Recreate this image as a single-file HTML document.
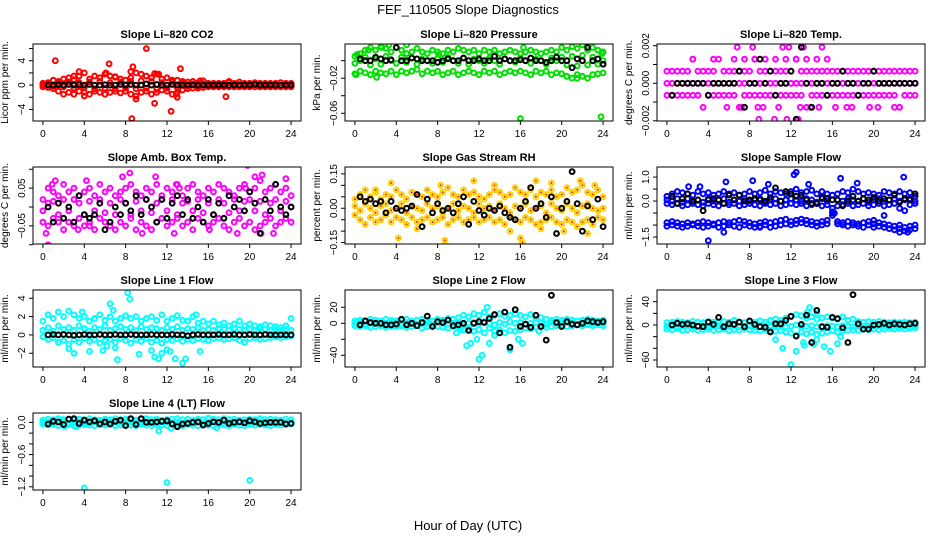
<!DOCTYPE html>
<html><head><meta charset="utf-8"><title>FEF_110505 Slope Diagnostics</title>
<style>
html,body{margin:0;padding:0;background:#fff;}
svg{display:block;font-family:"Liberation Sans",Arial,sans-serif;}
</style></head>
<body>
<svg id="chart" width="936" height="540" viewBox="0 0 936 540" xmlns="http://www.w3.org/2000/svg">
<rect x="0" y="0" width="936" height="540" fill="#fff"/>
<text x="468" y="14" text-anchor="middle" font-size="13">FEF_110505  Slope Diagnostics</text>
<text x="468" y="530" text-anchor="middle" font-size="13">Hour of Day (UTC)</text>
</svg>
<script>
// ---- data ----
const hours = [0,0.5,1,1.5,2,2.5,3,3.5,4,4.5,5,5.5,6,6.5,7,7.5,8,8.5,9,9.5,10,10.5,11,11.5,12,12.5,13,13.5,14,14.5,15,15.5,16,16.5,17,17.5,18,18.5,19,19.5,20,20.5,21,21.5,22,22.5,23,23.5,24];
const xTicks = [0,4,8,12,16,20,24];

// CO2
const co2Hi = [0.3,0.4,0.8,0.6,1.0,1.2,0.9,1.5, 2.0,1.0,1.5,1.2,1.8,1.5,1.3,1.0, 0.8,1.2,2.0,1.8,1.5,1.2,1.8,1.0, 1.2,0.8,0.8,0.6,0.5,0.6,0.4,0.7, 0.3,0.3,0.3,0.3,0.4,0.3,0.5,0.3, 0.3,0.4,0.3,0.3,0.3,0.3,0.4,0.3, 0.3];
const co2Mid = [0,0.2,-0.2,0.3,-0.3,0.5,-0.5,0.4, -0.4,0.5,-0.6,0.6,-0.5,0.4,-0.6,0.5, -0.5,0.6,-0.6,0.7,-0.5,0.6,-0.7,0.4, -0.5,0.5,-0.4,0.3,-0.2,0.2,-0.2,0.2, -0.1,0.1,-0.1,0.1,-0.1,0.1,-0.1,0.1, -0.1,0.1,-0.1,0.1,-0.1,0.1,-0.1,0.1, 0];
const co2Lo = [-0.3,-0.4,-0.6,-1.0,-1.5,-1.2,-1.5,-1.0, -1.2,-1.5,-1.0,-1.2,-1.5,-1.2,-1.0,-1.3, -1.0,-1.5,-1.8,-1.2,-1.0,-1.5,-1.2,-0.8, -1.0,-1.5,-1.2,-0.8,-0.6,-0.5,-0.5,-0.4, -0.3,-0.3,-0.3,-0.3,-0.3,-0.3,-0.3,-0.3, -0.3,-0.3,-0.3,-0.3,-0.3,-0.3,-0.3,-0.3, -0.3];
const co2OutH = [1.2,3.5,6.4,8.6,8.7,10,10.8,12.4,13.3,17.7,9,4,6.1,7,3,10.8,11.2,13,15.2,18,8.5,12.9];
const co2OutV = [4,2.2,3.5,-5.5,3,6,-3,-4.3,2.7,-1.9,-2.3,-1.8,2,1.4,1.5,1.9,1.8,-2,0.7,0.6,2.2,-1.5];
const co2Black = [0,0,0.05,0,0.1,0,0.05,0, 0.1,0,0,0.05,0,0,0.1,0, 0.1,0,0,0.2,0,0.1,0,0, 0.1,0,0,0.05,0,0,0,0, 0,0,0,0,0,0.05,0,0, 0.1,0,0,0,0,0,0,0];

// Pressure
const presHi = [0.005,0.008,0.012,0.015,0.012,0.016,0.014,0.01, 0.015,0.012,0.008,0.01,0.014,0.01,0.008,0.012, 0.01,0.008,0.012,0.01,0.014,0.012,0.01,0.012, 0.008,0.012,0.01,0.012,0.008,0.01,0.012,0.01, 0.008,0.01,0.012,0.01,0.008,0.01,0.012,0.01, 0.015,0.012,0.016,0.014,0.018,0.012,0.015,0.012, 0.01];
const presMid = [-0.003,0,0.004,-0.005,0.002,-0.004,0.005,0, -0.003,0.004,-0.002,0.003,-0.004,0.002,0,-0.003, 0.003,-0.002,0.004,0,-0.003,0.003,-0.004,0.002, 0,-0.003,0.003,0,-0.004,0.002,0,-0.002, 0.003,0,-0.003,0.002,0,-0.004,0.003,0, 0.004,-0.005,0.005,-0.006,0.006,-0.005,0.004,-0.004, 0];
const presLo = [-0.015,-0.012,-0.014,-0.016,-0.012,-0.014,-0.015,-0.012, -0.016,-0.012,-0.014,-0.012,-0.01,-0.015,-0.012,-0.014, -0.012,-0.016,-0.014,-0.012,-0.016,-0.014,-0.012,-0.014, -0.016,-0.012,-0.014,-0.012,-0.016,-0.014,-0.012,-0.014, -0.012,-0.014,-0.016,-0.012,-0.014,-0.012,-0.016,-0.014, -0.015,-0.018,-0.02,-0.016,-0.018,-0.02,-0.016,-0.015, -0.014];
const presOutH = [0.2,1.3,2.6,3.3,5,7.8,8.1,16,16.3,23.8,23.9,20.5,21.5,22,0.1,2.1];
const presOutV = [0.007,0.012,0.015,0.018,0.018,-0.072,0.007,-0.066,0.015,-0.064,0.008,-0.018,-0.02,-0.018,-0.016,-0.019];
const presBlack = [0.002,0,0,0.004,0.002,0,0.001,0.015, 0,0,0.003,0.002,0,0,0,-0.002, 0,0.002,0,0,0.003,0,0,0.002, 0,0,0.005,0,0.002,0,0,0.001, 0,0.003,0,0,-0.002,0,0.004,0, 0,-0.008,0.002,0,0.015,0,0.002,-0.004];

// Li-820 Temp (quantized levels)
const tempHi = [0.00064,0.00064,0.00064,0.00064,0.00064,0.00128,0.00064,0.00064, 0.00064,0.00064,0.00128,0.00064,0.00064,0.00064,0.00064,0.00064, 0.00064,0.00128,0.00064,0.00064,0.00064,0.00064,0.00064,0.00064, 0.00064,0.00128,0.00064,0.00064,0.00064,0.00064,0.00064,0.00064, 0.00064,0.00064,0.00064,0.00064,0.00064,0.00064,0.00064,0.00064, 0.00064,0.00064,0.00064,0.00064,0.00064,0.00064,0.00064,0.00064, 0.00064];
const tempMid = [0,0,0,0,0,0,0,0, 0,0,0,0,0,0,0,0, 0,0,0,0,0,0,0,0, 0,0,0,0,0,0,0,0, 0,0,0,0,0,0,0,0, 0,0,0,0,0,0,0,0, 0];
const tempLo = [-0.00064,-0.00064,-0.00064,-0.00064,-0.00064,-0.00064,-0.00064,-0.00128, -0.00064,-0.00064,-0.00064,-0.00064,-0.00064,-0.00064,-0.00128,-0.00064, -0.00064,-0.00064,-0.00064,-0.00064,-0.00064,-0.00064,-0.00064,-0.00064, -0.00064,-0.00064,-0.00064,-0.00128,-0.00064,-0.00064,-0.00064,-0.00064, -0.00064,-0.00064,-0.00064,-0.00064,-0.00064,-0.00064,-0.00064,-0.00064, -0.00064,-0.00064,-0.00064,-0.00064,-0.00064,-0.00128,-0.00064,-0.00064, -0.00064];
const tempOutH = [2.5,4.5,6.5,7.5,8.5,9.5,10.5,11.5,12.5,13.5,14.5,15.5, 6.8,8.3,11.2,11.8,13.2,15, 5.8,7.2,8.8,9.3,10.8,12.9,13.9,14.7,16.3,17.4,17.9,19.6,20.4,22, 8.9,10.4,11.6,12.7];
const tempOutV = [0.00128,0.00128,0.00128,0.00128,0.00128,0.00128,0.00128,0.00128,0.00128,0.00128,0.00128,0.00128, 0.00192,0.00192,0.00192,0.00192,0.00192,0.00192, -0.00128,-0.00128,-0.00128,-0.00128,-0.00128,-0.00128,-0.00128,-0.00128,-0.00128,-0.00128,-0.00128,-0.00128,-0.00128,-0.00128, -0.00192,-0.00192,-0.00192,-0.00192];
const tempBlack = [-0.00064,0,0,0,0,0,0,-0.00064, 0,0,0,0,0,0.00064,-0.00128,0, 0,0.00128,0,0.00064,-0.00064,0,0,0.00064, -0.00192,0.00192,0,-0.00128,0,0,-0.00064,0, 0,0.00064,0,0,-0.00064,0,0,0.00064, 0,0,0,0,0,0,0,0];

// Amb box temp
const ambHi = [0.02,0.05,0.04,0.03,0.06,0.04,0.05,0.03, 0.04,0.05,0.03,0.06,0.04,0.05,0.03,0.04, 0.05,0.06,0.04,0.03,0.05,0.04,0.06,0.03, 0.05,0.04,0.06,0.03,0.05,0.06,0.04,0.03, 0.05,0.04,0.06,0.05,0.04,0.03,0.05,0.06, 0.04,0.05,0.07,0.04,0.05,0.06,0.04,0.05, 0.03];
const ambMid = [-0.01,0.01,0.015,-0.02,0.02,-0.01,0.02,0.01, -0.02,0.015,-0.01,0.02,-0.015,0.01,-0.02,0.02, 0.01,-0.02,0.015,-0.01,0.02,-0.015,0.01,0.02, -0.01,0.02,-0.02,0.01,0.015,-0.01,0.02,-0.015, 0.01,-0.02,0.02,0.01,-0.015,0.02,-0.01,0.015, 0.02,-0.01,0.015,-0.02,0.01,0.02,-0.01,0.015, 0];
const ambLo = [-0.04,-0.05,-0.03,-0.04,-0.06,-0.04,-0.05,-0.03, -0.05,-0.04,-0.06,-0.03,-0.04,-0.05,-0.06,-0.04, -0.05,-0.03,-0.06,-0.04,-0.05,-0.06,-0.04,-0.03, -0.05,-0.04,-0.03,-0.05,-0.04,-0.06,-0.03,-0.04, -0.05,-0.04,-0.03,-0.05,-0.06,-0.04,-0.03,-0.05, -0.04,-0.06,-0.05,-0.04,-0.03,-0.05,-0.04,-0.03, -0.04];
const ambOutH = [0.3,0.9,1.2,0.5,3.4,4.5,8.4,10.5,10.9,12.9,12.7,13.2,18.8,19.8,20.5,21.1,21.2,23.5,19.6,4.2,9.6,16.1,22.3,7.7];
const ambOutV = [-0.07,0.06,0.07,-0.1,-0.06,-0.05,0.09,-0.11,0.08,0.06,-0.07,0.05,-0.07,0.11,0.08,-0.07,0.085,0.075,0.05,0.07,-0.07,-0.06,-0.07,0.08];
const ambBlack = [0,-0.04,0.01,-0.03,0,-0.04,0.03,-0.02, -0.03,-0.02,0.01,-0.06,-0.04,0,-0.02,0.01, -0.01,0.03,-0.02,0.02,0,-0.04,0.02,-0.03, 0.01,0.03,-0.02,0.02,-0.03,0,-0.04,0.02, -0.02,0.01,-0.03,0.03,0,0.02,-0.01,0.04, 0.01,-0.07,0.02,-0.01,0.06,0,-0.02,0];

// Gas stream RH
const rhHi = [0.04,0.06,0.08,0.05,0.07,0.04,0.06,0.05, 0.08,0.06,0.04,0.07,0.06,0.05,0.08,0.06, 0.05,0.07,0.09,0.06,0.05,0.08,0.06,0.07, 0.05,0.04,0.06,0.08,0.07,0.05,0.06,0.09, 0.07,0.06,0.08,0.05,0.07,0.06,0.08,0.05, 0.06,0.09,0.07,0.08,0.1,0.07,0.06,0.08, 0.05];
const rhMid = [0.01,-0.01,0.02,0,-0.02,0.01,0.02,-0.01, 0,0.02,-0.02,0.01,0,-0.01,0.02,0, 0.01,-0.02,0,0.02,-0.01,0.01,0,-0.02, 0.02,0,0.01,-0.01,0.02,0,-0.02,0.01, 0,0.02,-0.01,0,0.01,-0.02,0.02,0, -0.01,0.02,0,-0.02,0.01,0.02,0,-0.01, 0];
const rhLo = [-0.03,-0.05,-0.07,-0.04,-0.06,-0.05,-0.03,-0.06, -0.04,-0.05,-0.07,-0.04,-0.06,-0.05,-0.04,-0.06, -0.05,-0.04,-0.07,-0.05,-0.04,-0.06,-0.05,-0.04, -0.06,-0.05,-0.04,-0.06,-0.05,-0.07,-0.04,-0.05, -0.06,-0.04,-0.05,-0.07,-0.06,-0.05,-0.04,-0.06, -0.07,-0.05,-0.06,-0.08,-0.06,-0.05,-0.07,-0.04, -0.05];
const rhOutH = [3.5,4.2,8.7,11.5,15,16,16.2,17.5,19,20.2,21.8,8.3,6,13.5,22.5,23.2,18,2];
const rhOutV = [0.11,-0.13,-0.14,0.12,-0.1,-0.13,-0.15,0.12,0.11,-0.1,0.12,0.1,-0.09,0.1,-0.11,0.1,-0.09,0.08];
const rhBlack = [0.05,0.03,0.04,0.02,0.03,-0.02,0.03,0,-0.01, 0,0.01,0.06,-0.08,0.04,-0.02,0.02,-0.01, 0,-0.02,0.02,0.05,-0.07,0.03,-0.01,-0.03, 0,-0.01,0.01,-0.02,-0.04,-0.05,0,0.03, 0.09,0,0.02,-0.04,0.05,-0.11,0,0.03, 0.16,0.02,-0.1,0.01,-0.05,0.04,-0.08];

// Sample flow
const sfHi = [0.2,0.3,0.4,0.35,0.3,0.25,0.4,0.3, 0.35,0.25,0.3,0.4,0.3,0.35,0.25,0.3, 0.4,0.3,0.35,0.45,0.3,0.4,0.35,0.3, 0.4,0.5,0.35,0.4,0.45,0.3,0.4,0.3, 0.25,0.3,0.4,0.35,0.5,0.4,0.3,0.35, 0.3,0.25,0.4,0.35,0.3,0.4,0.3,0.35, 0.2];
const sfMid = [0.05,0,0.1,-0.05,0.1,0,0.05,-0.05, 0.1,0,0.05,0.1,-0.05,0.05,0,0.1, 0,0.05,0.1,-0.05,0.05,0.1,0,0.05, 0.1,0.05,0,0.1,0.05,-0.05,0.1,0, -0.3,0.05,0,0.1,0.05,0,0.1,-0.05, 0.05,0.1,0,0.05,0.1,0,0.05,0.1, 0];
const sfLo = [-0.1,-0.15,-0.1,-0.2,-0.15,-0.1,-0.15,-0.2, -0.1,-0.15,-0.2,-0.1,-0.15,-0.1,-0.2,-0.15, -0.1,-0.15,-0.2,-0.1,-0.15,-0.1,-0.2,-0.15, -0.1,-0.15,-0.1,-0.2,-0.15,-0.1,-0.2,-0.15, -0.5,-0.2,-0.15,-0.1,-0.2,-0.15,-0.1,-0.2, -0.15,-0.1,-0.2,-0.15,-0.1,-0.3,-0.4,-0.15, -0.1];
const sfLowA = [-0.9,-0.85,-0.9,-0.95,-0.9,-0.95,-0.9,-0.85, -0.9,-0.95,-0.9,-0.85,-0.9,-0.85,-0.8,-0.85, -0.9,-0.95,-0.9,-0.85,-0.9,-0.85,-0.8,-0.75, -0.85,-0.8,-0.75,-0.8,-0.85,-0.9,-0.85,-0.8, -0.6,-0.85,-0.9,-0.85,-0.9,-0.95,-0.9,-0.85, -0.8,-0.9,-0.95,-1.0,-1.05,-1.0,-1.1,-1.05, -1.0];
const sfLowB = [-1.05,-1.0,-1.05,-1.1,-1.05,-1.0,-1.05,-1.1, -1.05,-1.0,-1.1,-1.05,-1.0,-1.05,-1.1,-1.0, -1.05,-1.1,-1.05,-1.0,-1.1,-1.05,-1.0,-0.95, -1.0,-0.95,-0.9,-0.95,-1.0,-1.05,-1.0,-0.95, -0.45,-0.95,-1.0,-1.05,-1.0,-1.05,-1.1,-1.0, -0.95,-1.05,-1.1,-1.15,-1.2,-1.15,-1.25,-1.2, -1.15];
const sfOutH = [4,5.5,5.7,8.3,12.3,12.5,22.9,23.3,9,2.1,3.2,9.8,16.8,18.4,21,16.2,22.5,20,13.7];
const sfOutV = [-1.65,-1.3,0.8,0.85,1.1,1.2,1.0,-1.3,-1.1,0.6,0.6,0.7,0.95,0.75,-0.6,-0.5,-1.3,-1.1,0.7];
const sfBlack = [0.2,-0.1,0.1,0.3,0,0.05,-0.4,0.05, 0.1,0.05,-0.1,0.25,0.05,0.25,0,0.05, 0.1,0.05,0,0.15,0.55,0,0.4,0.3, 0.2,0.25,0.05,-0.1,-0.1,0.15,0.1,0.05, 0.05,-0.2,0,0.2,0,0.1,0.05,0.15, 0,0.1,0.05,0.25,-0.05,0.1,0.05,0.3];

// Line 1
const l1Hi = [1.5,2.2,1.8,2.5,2.0,2.6,2.2,1.8, 2.0,1.5,1.8,2.2,1.6,2.0,1.5,1.8, 2.1,1.8,2.0,1.5,1.8,2.0,1.6,2.2, 1.5,1.8,2.1,1.6,1.5,2.0,1.3,1.5, 1.2,1.5,1.1,1.3,1.0,1.2,1.5,1.0, 1.2,1.0,0.9,1.1,1.0,0.9,0.8,1.0, 1.8];
const l1Mid = [0.5,0.8,0.4,1.0,0.6,0.8,0.5,1.0, 0.7,0.4,0.8,0.6,1.0,0.5,0.7,0.9, 0.6,0.8,0.5,0.9,0.6,0.8,0.7,0.5, 0.8,0.6,0.9,0.5,0.7,0.6,0.8,0.5, 0.6,0.5,0.7,0.6,0.5,0.7,0.6,0.5, 0.6,0.5,0.7,0.6,0.5,0.6,0.5,0.6, 0.5];
const l1Lo = [-0.2,-0.5,-0.3,-0.8,-0.6,-1.0,-0.5,-0.8, -0.4,-0.7,-0.5,-0.9,-0.6,-0.5,-0.8,-0.4, -0.6,-0.9,-0.5,-0.7,-0.4,-0.8,-0.6,-0.9, -0.5,-0.6,-0.4,-0.7,-0.5,-0.6,-0.4,-0.5, -0.6,-0.4,-0.3,-0.5,-0.4,-0.3,-0.6,-0.8, -0.4,-0.3,-0.5,-0.4,-0.3,-0.2,-0.3,-0.2, -0.1];
const l1OutH = [2.5,3,6.5,6.8,7,8.2,8.4,7.2,10.5,10.8,11.2,11.5,12,12.3,13.5,13.8,12.8,4.5,5.8,9.3,15.2,3.8,6.2,14.8];
const l1OutV = [-1.5,-2,3.4,2.7,-1.4,4.6,3.9,-2.7,-1.7,-2.4,-2.6,-2.0,-1.6,-1.8,-3.1,-2.6,-2.6,-1.8,-1.7,-2.1,-1.8,2.5,-1.2,2.2];
const l1Black = [0,0.05,0,0.05,0,-0.05,0,0.05, 0,0,0.05,0,0,0.05,0,0, 0.05,0,0,0,0.05,0,0,0, 0.05,0,0,-0.1,0,0.05,0,0, 0,0.05,0,0,0.05,0,0,0.05, 0,0,0.05,0,0,0,0,0];

// Line 2
const l2Hi = [3,4,3,5,4,3,5,4, 3,4,5,3,4,5,4,3, 5,4,6,5,7,10,8,12, 10,14,8,10,12,9,10,12, 10,8,11,6,7,5,4,5, 4,5,4,3,4,5,4,3, 4];
const l2Mid = [0,1,-1,0,1,-1,0,1, 0,-1,1,0,-1,1,0,-1, 1,0,-1,0,1,-2,0,1, -1,2,0,-2,1,-1,2,0, 1,-1,0,1,0,-1,1,0, 0,1,0,-1,1,0,0,1, 0];
const l2Lo = [-3,-4,-3,-5,-4,-3,-5,-4, -4,-3,-5,-4,-3,-6,-4,-3, -4,-5,-6,-4,-6,-8,-6,-10, -8,-12,-6,-10,-8,-12,-9,-10, -8,-6,-7,-5,-4,-5,-4,-3, -3,-4,-3,-2,-3,-2,-3,-2, -3];
const l2OutH = [12,12.3,10.8,15,11.8,13,16.2,12.8,15.8,9.8,13.5,17.8,11.2,10.2];
const l2OutV = [-45,-40,-28,-33,-20,-25,-25,20,-20,-12,-15,-10,-25,-8];
const l2Black = [-2,3,1,0,0,-2,-2,-1, 5,-2,0,-3,1,9,-4,2, 1,4,-3,-2,0,-9,0,2, 1,6,11,-12,14,-30,17,-4, -1,-5,10,-4,-21,35,1,-4, 2,-1,-2,0,3,2,1,2];

// Line 3
const l3Hi = [4,5,6,5,4,6,5,4, 6,5,4,6,5,8,5,4, 6,5,7,5,8,10,8,12, 14,18,16,12,14,10,12,14, 12,10,14,8,10,6,5,6, 5,6,5,4,5,4,5,4, 5];
const l3Mid = [-2,-1,-3,-2,-1,-3,-2,-1, -3,-2,-1,-3,-2,-1,-3,-2, -1,-3,-2,-1,-3,-2,-1,-3, -2,0,-3,-2,-1,-3,-2,-1, -2,-3,-1,-2,-3,-1,-2,-3, -1,-2,-1,-2,-1,-2,-1,-2, -1];
const l3Lo = [-7,-8,-6,-9,-8,-7,-9,-8, -7,-9,-8,-7,-10,-8,-9,-7, -8,-9,-10,-8,-9,-11,-10,-12, -14,-18,-12,-15,-12,-16,-14,-12, -10,-12,-10,-9,-8,-9,-7,-8, -7,-8,-7,-6,-7,-6,-7,-6, -5];
const l3OutH = [12,11.2,10.5,12.5,13.3,14.5,15.2,13.8,15.8,13.2,14.2,16.5,13.6,16.8,14.5];
const l3OutV = [-68,-40,-25,-45,-35,-25,-37,30,-45,-30,-33,-32,22,-20,20];
const l3Black = [0,3,1,2,0,-2,-3,5, 1,13,-3,2,1,5,-3,7, 1,-3,-4,-12,2,2,8,15, -19,1,17,-30,25,-3,-4,13, 11,-5,-30,52,2,-7,-7,0, 1,3,0,2,1,0,2,3];

// Line 4 (LT)
const l4Hi = [0.04,0.06,0.05,0.07,0.05,0.06,0.04,0.06, 0.05,0.07,0.05,0.04,0.06,0.05,0.07,0.05, 0.06,0.05,0.04,0.06,0.07,0.05,0.06,0.04, 0.05,0.06,0.07,0.05,0.06,0.04,0.06,0.05, 0.08,0.06,0.05,0.07,0.05,0.06,0.04,0.05, 0.06,0.05,0.07,0.05,0.06,0.05,0.04,0.06, 0.05];
const l4Mid = [0,0.01,-0.01,0,0.01,-0.01,0,0.01, 0,-0.01,0.01,0,-0.01,0.01,0,0, 0.01,0,-0.01,0,0.01,0,-0.01,0.01, 0,0,0.01,-0.01,0,0.01,0,-0.01, 0,0.01,0,-0.01,0,0.01,0,0, -0.01,0,0.01,0,-0.01,0,0.01,0, 0];
const l4Lo = [-0.03,-0.05,-0.04,-0.06,-0.05,-0.04,-0.06,-0.05, -0.04,-0.05,-0.06,-0.04,-0.05,-0.04,-0.06,-0.05, -0.04,-0.05,-0.06,-0.04,-0.05,-0.06,-0.04,-0.05, -0.06,-0.04,-0.05,-0.06,-0.04,-0.05,-0.06,-0.04, -0.05,-0.06,-0.04,-0.05,-0.06,-0.04,-0.05,-0.06, -0.04,-0.05,-0.04,-0.05,-0.06,-0.04,-0.05,-0.04, -0.03];
const l4OutH = [4,12,20,11.2,12.4,16.8,3.2,2.1];
const l4OutV = [-1.22,-1.12,-1.08,-0.16,-0.11,-0.1,-0.08,-0.07];
const l4Black = [-0.03,0.02,0.01,-0.04,0.06,0.07,-0.02,0.04, 0.01,0.03,-0.03,0.01,-0.03,0.02,0.04,-0.06, 0.07,-0.04,0.07,0,0,0.01,0.02,0.03, -0.03,-0.08,-0.03,-0.02,0,0.01,-0.05,-0.02, 0.01,0,0.04,-0.02,0,0.01,-0.01,0.03, 0.01,-0.02,-0.01,0,0,0,-0.03,-0.02];

// ---- rendering ----
const NS = "http://www.w3.org/2000/svg";
const svg = document.getElementById("chart");
function mk(tag, attrs, parent){ const e=document.createElementNS(NS,tag); for(const k in attrs) e.setAttribute(k,attrs[k]); (parent||svg).appendChild(e); return e; }

const panels = [
 {key:"co2",title:"Slope Li\u2013820 CO2",ylab:"Licor ppm per min.",col:0,row:0,ylim:[-5.9,6.75],ticks:[-4,-2,0,2,4,6],labs:{"-4":"\u22124","0":"0","4":"4"},color:"#ff0000",series:[co2Hi,co2Mid,co2Lo],outH:co2OutH,outV:co2OutV,black:co2Black},
 {key:"pressure",title:"Slope Li\u2013820 Pressure",ylab:"kPa per min.",col:1,row:0,ylim:[-0.0688,0.019],ticks:[-0.06,-0.04,-0.02,0],labs:{"-0.06":"\u22120.06","-0.02":"\u22120.02"},color:"#00e000",series:[presHi,presMid,presLo],outH:presOutH,outV:presOutV,black:presBlack},
 {key:"temp",title:"Slope Li\u2013820 Temp.",ylab:"degrees C per min.",col:2,row:0,ylim:[-0.00201,0.00209],ticks:[-0.002,-0.001,0,0.001,0.002],labs:{"-0.002":"\u22120.002","0":"0.000","0.002":"0.002"},color:"#ff00ff",series:[tempHi,tempMid,tempLo],outH:tempOutH,outV:tempOutV,black:tempBlack},
 {key:"ambtemp",title:"Slope Amb. Box Temp.",ylab:"degrees C per min.",col:0,row:1,ylim:[-0.098,0.106],ticks:[-0.1,-0.05,0,0.05,0.1],labs:{"-0.05":"\u22120.05","0.05":"0.05"},color:"#ff00ff",series:[ambHi,ambMid,ambLo],outH:ambOutH,outV:ambOutV,black:ambBlack},
 {key:"rh",title:"Slope Gas Stream RH",ylab:"percent per min.",col:1,row:1,ylim:[-0.156,0.18],ticks:[-0.15,-0.1,-0.05,0,0.05,0.1,0.15],labs:{"-0.15":"\u22120.15","0":"0.00","0.15":"0.15"},color:"#ffd000",dot:"#e02000",series:[rhHi,rhMid,rhLo],outH:rhOutH,outV:rhOutV,black:rhBlack},
 {key:"sampleflow",title:"Slope Sample Flow",ylab:"ml/min per min.",col:2,row:1,ylim:[-1.79,1.42],ticks:[-1.5,-1,-0.5,0,0.5,1],labs:{"-1.5":"\u22121.5","0":"0.0","1":"1.0"},color:"#0000ff",series:[sfHi,sfMid,sfLo,sfLowA,sfLowB],outH:sfOutH,outV:sfOutV,black:sfBlack},
 {key:"line1",title:"Slope Line 1 Flow",ylab:"ml/min per min.",col:0,row:2,ylim:[-3.5,4.9],ticks:[-2,0,2,4],labs:{"-2":"\u22122","0":"0","2":"2","4":"4"},color:"#00ffff",series:[l1Hi,l1Mid,l1Lo],outH:l1OutH,outV:l1OutV,black:l1Black},
 {key:"line2",title:"Slope Line 2 Flow",ylab:"ml/min per min.",col:1,row:2,ylim:[-54.6,41.6],ticks:[-40,-20,0,20],labs:{"-40":"\u221240","0":"0","20":"20"},color:"#00ffff",series:[l2Hi,l2Mid,l2Lo],outH:l2OutH,outV:l2OutV,black:l2Black},
 {key:"line3",title:"Slope Line 3 Flow",ylab:"ml/min per min.",col:2,row:2,ylim:[-72,60],ticks:[-60,-40,-20,0,20,40],labs:{"-60":"\u221260","0":"0","40":"40"},color:"#00ffff",series:[l3Hi,l3Mid,l3Lo],outH:l3OutH,outV:l3OutV,black:l3Black},
 {key:"line4",title:"Slope Line 4 (LT) Flow",ylab:"ml/min per min.",col:0,row:3,ylim:[-1.26,0.175],ticks:[-1.2,-1,-0.8,-0.6,-0.4,-0.2,0],labs:{"-1.2":"\u22121.2","-0.6":"\u22120.6","0":"0.0"},color:"#00ffff",series:[l4Hi,l4Mid,l4Lo],outH:l4OutH,outV:l4OutV,black:l4Black}
];

panels.forEach(p=>{
  const L = 33 + 312*p.col, R = L + 268, T = 44 + 123*p.row, B = T + 77;
  const xs = h => L + (h + 0.96) / 25.92 * (R - L);
  const ys = v => B - (v - p.ylim[0]) / (p.ylim[1] - p.ylim[0]) * (B - T);
  const g = mk("g",{});
  
  
  const clipId = "clip-" + p.key;
  const cp = mk("clipPath",{id:clipId},g);
  mk("rect",{x:L,y:T,width:R-L,height:B-T},cp);

  const title = mk("text",{x:(L+R)/2,y:T-6,"text-anchor":"middle","font-size":"11","font-weight":"bold"},g);
  title.textContent = p.title;
  
  

  const ylab = mk("text",{x:0,y:0,"text-anchor":"middle","font-size":"10",transform:`translate(${L-25},${(T+B)/2}) rotate(-90)`},g);
  ylab.textContent = p.ylab;
  
  

  const pts = mk("g",{"clip-path":`url(#${clipId})`},g);
  
  
  function pt(h, v, color, dot){
    const c = mk("circle",{cx:xs(h).toFixed(1),cy:ys(v).toFixed(1),r:2.4,fill:"none",stroke:color,"stroke-width":2},pts);
    
    
    if(dot){ mk("circle",{cx:xs(h).toFixed(1),cy:ys(v).toFixed(1),r:1,fill:dot},pts); }
  }
  p.series.forEach(arr => arr.forEach((v,i)=>{ if(i < hours.length) pt(hours[i], v, p.color, p.dot); }));
  p.outH.forEach((h,i)=> pt(h, p.outV[i], p.color, p.dot));
  p.black.forEach((v,i)=> pt(hours[i+1], v, "#000000"));

  const box = mk("rect",{x:L,y:T,width:R-L,height:B-T,fill:"none",stroke:"#000","stroke-width":1},g);
  
  

  xTicks.forEach(t=>{
    const x = xs(t);
    mk("line",{x1:x,y1:B,x2:x,y2:B+4,stroke:"#000","stroke-width":1},g);
    const tl = mk("text",{x:x,y:B+16,"text-anchor":"middle","font-size":"10"},g);
    tl.textContent = String(t);
    
    
  });
  p.ticks.forEach(t=>{
    const y = ys(t);
    mk("line",{x1:L-4,y1:y,x2:L,y2:y,stroke:"#000","stroke-width":1},g);
    const key = String(t);
    if(p.labs[key] !== undefined){
      const tl = mk("text",{x:0,y:0,"text-anchor":"middle","font-size":"10",transform:`translate(${L-8},${y}) rotate(-90)`},g);
      tl.textContent = p.labs[key];
      
      
    }
  });
});
</script>
</body></html>
